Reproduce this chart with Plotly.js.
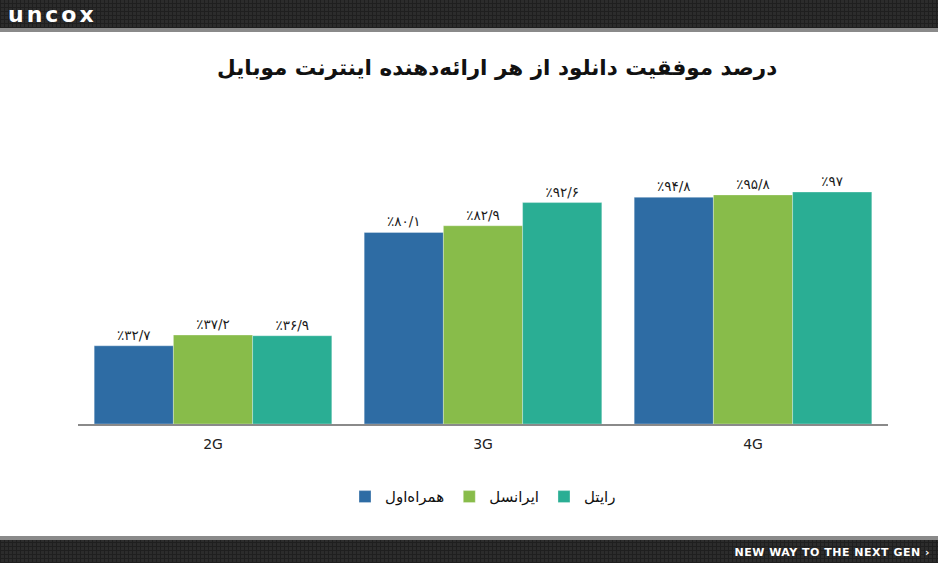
<!DOCTYPE html>
<html>
<head>
<meta charset="utf-8">
<script src="https://cdn.plot.ly/plotly-3.0.1.min.js"></script>
<style>
  body { margin: 0; background: #fff; }
  #wrap { position: relative; width: 938px; height: 563px; overflow: hidden; }
  #chart { position: absolute; left: 0; top: 0; width: 938px; height: 563px; }
  .band {
    position: absolute; left: 0; width: 938px;
    background-color: #2c2c2c;
    background-image:
      repeating-linear-gradient(0deg, #1f1f1f 0 1px, transparent 1px 4px),
      repeating-linear-gradient(90deg, #1f1f1f 0 1px, transparent 1px 4px);
  }
  #head { top: 0; height: 28px; border-bottom: 4px solid #8a8a8a; }
  #foot { top: 536px; height: 23px; border-top: 4px solid #8a8a8a; }
  #logo {
    position: absolute; left: 8px; top: 2px; color: #fff;
    font: bold 22px "DejaVu Sans", sans-serif; letter-spacing: 3px;
  }
  #tag {
    position: absolute; right: 8px; top: 6px; color: #fff;
    font: bold 11px "DejaVu Sans", sans-serif; letter-spacing: 0.5px;
  }
</style>
</head>
<body>
<div id="wrap">
  <div id="chart"></div>
  <div class="band" id="head"><div id="logo">uncox</div></div>
  <div class="band" id="foot"><div id="tag">NEW WAY TO THE NEXT GEN ›</div></div>
</div>
<script>
// network generations on the x axis
const generations = ["2G", "3G", "4G"];

// download success (%) per operator
const hamrahAval = [32.7, 80.1, 94.8];
const irancell = [37.2, 82.9, 95.8];
const rightel = [36.9, 92.6, 97];

const operatorNames = ["همراه‌اول", "ایرانسل", "رایتل"];
const operatorColors = ["#2e6ca4", "#88bc4a", "#2aae94"];

// persian digits for the bar labels, e.g. 32.7 -> ٪۳۲/۷
const faDigits = "۰۱۲۳۴۵۶۷۸۹";
function faLabel(v) {
    const s = String(v).replace(".", "/").replace(/[0-9]/g, d => faDigits[d]);
    return "٪" + s;
}

const series = [hamrahAval, irancell, rightel];
const traces = series.map((vals, i) => {
    return {
        type: "bar",
        x: generations,
        y: vals,
        name: operatorNames[i],
        text: vals.map(faLabel),
        textposition: "outside",
        cliponaxis: false,
        textfont: { family: "DejaVu Sans, sans-serif", size: 13.5, color: "#1a1a1a" },
        marker: { color: operatorColors[i], line: { color: "rgba(255,255,255,0.3)", width: 1 } },
        hoverinfo: "none"
    };
});

const layout = {
    width: 938,
    height: 563,
    margin: { l: 78, r: 50, t: 160, b: 139 },
    paper_bgcolor: "#fff",
    plot_bgcolor: "#fff",
    font: { family: "DejaVu Sans, sans-serif", color: "#222" },
    title: {
        text: "<b>درصد موفقیت دانلود از هر ارائه‌دهنده اینترنت موبایل</b>",
        font: { size: 21.5, color: "#111" },
        x: 0.53, xanchor: "center",
        y: 0.88, yanchor: "middle"
    },
    barmode: "group",
    bargap: 0.12,
    bargroupgap: 0,
    xaxis: {
        showline: true, linecolor: "#8a8a8a", linewidth: 2,
        ticks: "", tickfont: { size: 14, color: "#222" },
        ticklabelstandoff: 6,
        showgrid: false, zeroline: false
    },
    yaxis: {
        range: [0, 110.4],
        visible: false, showgrid: false, zeroline: false
    },
    showlegend: true,
    legend: {
        orientation: "h",
        x: 0.5, xanchor: "center",
        y: -0.276, yanchor: "middle",
        font: { size: 15, color: "#111" },
        itemclick: false, itemdoubleclick: false
    }
};

Plotly.newPlot("chart", traces, layout, { displayModeBar: false, staticPlot: true });
</script>
</body>
</html>
